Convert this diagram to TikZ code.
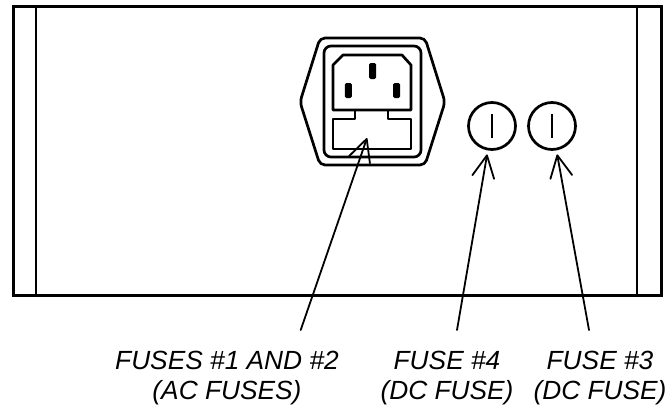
\documentclass[tikz,border=0pt]{standalone}
\usepackage{fontspec}
\setmainfont{Liberation Sans}
\usetikzlibrary{arrows.meta}
\begin{document}
\begin{tikzpicture}[x=1pt,y=-1pt,
  thick line/.style={line width=2.7pt, line join=round},
  fusecirc/.style={circle, draw, line width=2.7pt, minimum size=47pt, inner sep=0pt},
  pin/.style={fill=black, rounded corners=1.5pt},
  ptr/.style={line width=1.8pt, line cap=round, -{Straight Barb[length=22pt,width=22pt,round]}, shorten >=4pt},
  lbl/.style={font=\fontsize{26.3}{29.5}\selectfont\itshape, align=center, inner sep=0pt, anchor=north}]
\useasboundingbox (0,0) rectangle (667,410);
% housing
\draw[line width=3pt] (13,6) rectangle (661,295);
\draw[line width=2.4pt] (36,6) -- (36,295);
\draw[line width=2.4pt] (637,6) -- (637,295);
% AC inlet
\draw[thick line, rounded corners=5pt] (320,38) -- (425,38) -- (445,102) -- (425,165) -- (320,165) -- (300,102) -- cycle;
\draw[thick line, rounded corners=7pt] (324,46) rectangle (421,157);
\draw[thick line] (333,110) -- (333,65) -- (343,55) -- (402,55) -- (411,65) -- (411,110) -- cycle;
\draw[thick line] (333,119) -- (355,119) -- (355,110) -- (388,110) -- (388,119) -- (411,119) -- (411,149) -- (333,149) -- cycle;
\fill[pin] (344.8,83) rectangle (351.8,98);
\fill[pin] (369,63) rectangle (376,79);
\fill[pin] (393,83) rectangle (400,98);
\coordinate (drawer) at (367,138);
% DC fuses
\node[fusecirc] (f4) at (492,126) {};
\node[fusecirc] (f3) at (552,126) {};
\draw[line width=2.8pt] ([yshift=12pt]f4.center) -- ([yshift=-12pt]f4.center);
\draw[line width=2.8pt] ([yshift=12pt]f3.center) -- ([yshift=-12pt]f3.center);
% labels
\node[lbl] (l12) at (227,351) {FUSES \#1 AND \#2\\(AC FUSES)};
\node[lbl] (l4) at (447,351) {FUSE \#4\\(DC FUSE)};
\node[lbl] (l3) at (600,351) {FUSE \#3\\(DC FUSE)};
% pointers
\coordinate (a12) at (300.7,330);
\coordinate (a4) at (457,330);
\coordinate (a3) at (589,330);
\draw[ptr, shorten >=0pt] (a12) -- (drawer);
\draw[ptr] (a4) -- (f4);
\draw[ptr] (a3) -- (f3);
\end{tikzpicture}
\end{document}
